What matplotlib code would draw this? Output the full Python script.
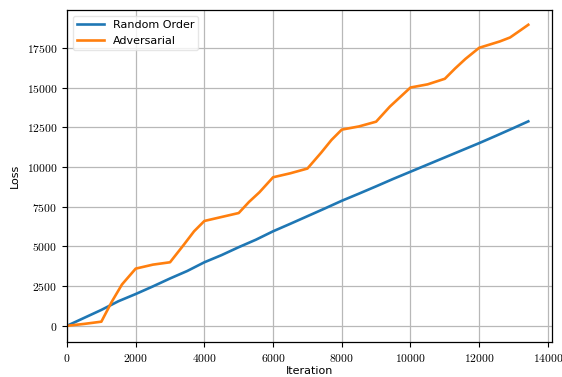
import matplotlib
matplotlib.use("Agg")
import matplotlib.pyplot as plt
from matplotlib.ticker import FuncFormatter, MultipleLocator

plt.rcParams["mathtext.fontset"] = "cm"
plt.rcParams["font.family"] = ["DejaVu Sans"]

# Random-order training loss
random_iter = [0, 500, 1000, 1500, 2000, 2500, 3000, 3500, 4000, 4500, 5000, 5500,
               6000, 6500, 7000, 7500, 8000, 8500, 9000, 9500, 10000, 10500, 11000,
               11500, 12000, 12500, 13000, 13430]
random_loss = [0, 500, 1000, 1550, 2000, 2480, 2980, 3450, 4000, 4450, 4950, 5420,
               5950, 6420, 6900, 7380, 7870, 8320, 8780, 9250, 9700, 10150, 10600,
               11050, 11500, 11970, 12450, 12870]

# Adversarial-order training loss
adv_iter = [0, 500, 1000, 1300, 1600, 2000, 2500, 3000, 3400, 3700, 4000, 4500, 4800,
            5000, 5300, 5600, 6000, 6500, 7000, 7400, 7700, 8000, 8500, 9000, 9400,
            9700, 10000, 10500, 11000, 11300, 11600, 12000, 12600, 12900, 13200, 13430]
adv_loss = [0, 120, 260, 1500, 2600, 3600, 3850, 4000, 5100, 5950, 6600, 6850, 7000,
            7100, 7800, 8400, 9350, 9600, 9900, 10900, 11700, 12350, 12550, 12850, 13800,
            14400, 15000, 15200, 15550, 16200, 16800, 17500, 17900, 18150, 18600, 18950]

fig = plt.figure(figsize=(5.62, 3.77), dpi=100)
ax = fig.add_axes([0.1192, 0.0928, 0.863, 0.8807])

ax.plot(random_iter, random_loss, color="#1f77b4", lw=1.9, label="Random Order")
ax.plot(adv_iter, adv_loss, color="#ff7f0e", lw=1.9, label="Adversarial")

ax.set_xlim(0, 14120)
ax.set_ylim(-1020, 19880)
ax.xaxis.set_major_locator(MultipleLocator(2000))
ax.yaxis.set_major_locator(MultipleLocator(2500))
fmt = FuncFormatter(lambda v, p: r"$%d$" % int(round(v)))
ax.xaxis.set_major_formatter(fmt)
ax.yaxis.set_major_formatter(fmt)
ax.tick_params(labelsize=8.4, length=3.5, width=0.8, color="black")

ax.grid(True, color="#b8b8b8", lw=0.9)
ax.set_axisbelow(True)
for s in ax.spines.values():
    s.set_color("black")
    s.set_linewidth(0.9)

ax.set_xlabel("Iteration", fontsize=8, labelpad=1)
ax.set_ylabel("Loss", fontsize=8, labelpad=5)

leg = ax.legend(loc="upper left", fontsize=8, frameon=True, framealpha=0.8,
                edgecolor="#e0e0e0", handlelength=2.4, borderaxespad=0.5)

fig.savefig("out.png", dpi=100)
